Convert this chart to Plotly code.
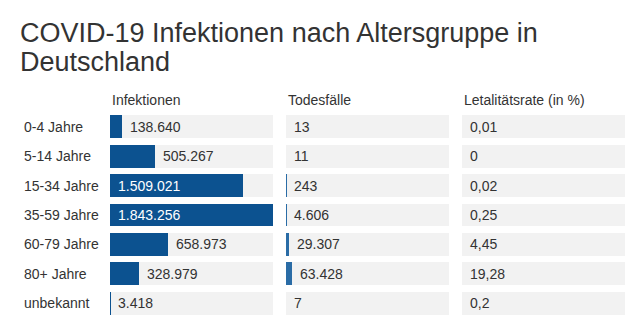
import plotly.graph_objects as go

# ---- data ----
title_lines = ["COVID-19 Infektionen nach Altersgruppe in", "Deutschland"]
age_groups = ["0-4 Jahre", "5-14 Jahre", "15-34 Jahre", "35-59 Jahre",
              "60-79 Jahre", "80+ Jahre", "unbekannt"]
col_headers = ["Infektionen", "Todesfälle", "Letalitätsrate (in %)"]
infektionen = [138640, 505267, 1509021, 1843256, 658973, 328979, 3418]
todesfaelle = [13, 11, 243, 4606, 29307, 63428, 7]
letalitaet_labels = ["0,01", "0", "0,02", "0,25", "4,45", "19,28", "0,2"]

W, H = 639, 330
TEXT = "#333333"
BG = "#f2f2f2"
BAR1 = "#0c5290"
BAR2 = "#2a6ca6"
FONT = "Liberation Sans, Arial, sans-serif"

def fmt(v):
    return f"{v:,}".replace(",", ".")

scale_max = max(infektionen)
rows = list(range(len(age_groups)))

# layout geometry (pixels)
cols_px = [(110, 273), (286, 449), (462, 625)]
domains = [[a / W, b / W] for a, b in cols_px]
pitch = 29.5
row0 = 126.5
top_px = row0 - pitch / 2
bottom_px = row0 + pitch * (len(rows) - 1) + pitch / 2
plot_h = bottom_px - top_px

def ypaper(px):
    return (bottom_px - px) / plot_h

fig = go.Figure()
bar_w = 0.78
axes = ["x", "x2", "x3"]
series = [infektionen, todesfaelle, None]
colors = [BAR1, BAR2, BAR1]

annotations = []
for ci, ax in enumerate(axes):
    fig.add_trace(go.Bar(
        x=[scale_max] * len(rows), y=rows, orientation="h",
        marker=dict(color=BG, line=dict(width=0)), width=bar_w,
        xaxis=ax, yaxis="y", hoverinfo="skip", showlegend=False))
    vals = series[ci]
    if vals is not None:
        fig.add_trace(go.Bar(
            x=vals, y=rows, orientation="h",
            marker=dict(color=colors[ci], line=dict(width=0)), width=bar_w,
            xaxis=ax, yaxis="y", showlegend=False))
    px_per_unit = (cols_px[ci][1] - cols_px[ci][0]) / scale_max
    for r in rows:
        if vals is not None:
            v = vals[r]
            label = fmt(v)
            inside = v / scale_max > 0.7
        else:
            v = 0
            label = letalitaet_labels[r]
            inside = False
        if inside:
            xs = 6 / px_per_unit
            col = "white"
        else:
            xs = v + 6 / px_per_unit
            col = TEXT
        annotations.append(dict(
            x=xs, y=r, xref=ax, yref="y", text=label, showarrow=False,
            xanchor="left", yanchor="middle",
            font=dict(size=14, color=col, family=FONT)))
    annotations.append(dict(
        x=domains[ci][0], y=ypaper(100), xref="paper", yref="paper",
        text=col_headers[ci], showarrow=False, xanchor="left", yanchor="middle",
        font=dict(size=14, color=TEXT, family=FONT)))

for r, g in enumerate(age_groups):
    annotations.append(dict(
        x=22 / W, y=r, xref="paper", yref="y", text=g, showarrow=False,
        xanchor="left", yanchor="middle",
        font=dict(size=14, color=TEXT, family=FONT)))

for li, (line, cy) in enumerate(zip(title_lines, [33, 62])):
    annotations.append(dict(
        x=18 / W, y=ypaper(cy), xref="paper", yref="paper", text=line,
        showarrow=False, xanchor="left", yanchor="middle",
        font=dict(size=27, color=TEXT, family=FONT)))

layout_axes = {}
for ci, ax in enumerate(axes):
    name = "xaxis" if ci == 0 else f"xaxis{ci+1}"
    layout_axes[name] = dict(domain=domains[ci], range=[0, scale_max],
                             visible=False, fixedrange=True)
    if ci > 0:
        layout_axes[name]["anchor"] = "y"

fig.update_layout(
    width=W, height=H,
    margin=dict(l=0, r=0, t=top_px, b=H - bottom_px, pad=0),
    paper_bgcolor="white", plot_bgcolor="white",
    barmode="overlay", bargap=0,
    yaxis=dict(range=[len(rows) - 0.5, -0.5], visible=False, fixedrange=True),
    annotations=annotations,
    **layout_axes,
)

fig.write_html("out.html")
